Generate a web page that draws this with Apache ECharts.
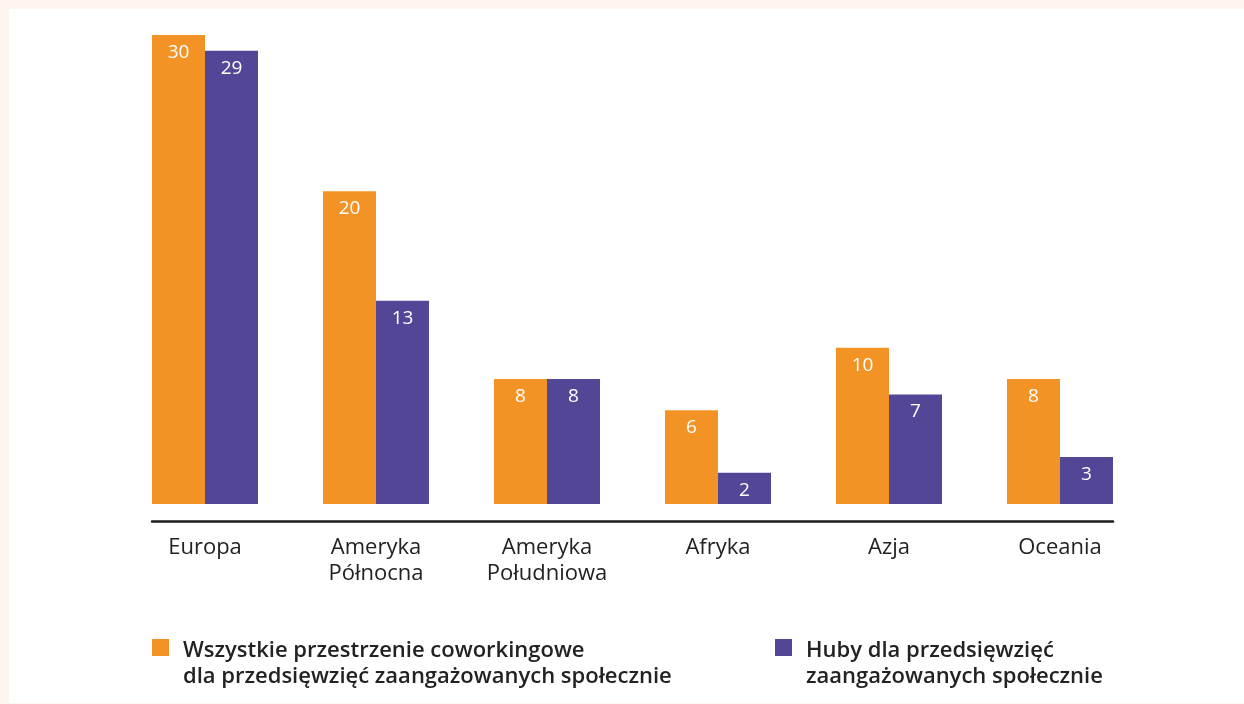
<!DOCTYPE html>
<html>
<head>
<meta charset="utf-8">
<script src="https://cdn.jsdelivr.net/npm/echarts@6/dist/echarts.min.js"></script>
<style>
html,body{margin:0;padding:0;background:#fdf5ee;}
#wrap{position:absolute;left:0;top:0;width:1244px;height:704px;background:#fdf5ee;}
#panel{position:absolute;left:9px;top:9px;width:1235px;height:694px;background:#ffffff;}
#chart{position:absolute;left:0;top:0;width:1244px;height:704px;}
</style>
</head>
<body>
<div id="wrap"><div id="panel"></div><div id="chart"></div></div>
<script>
const categories = ['Europa', 'Ameryka\nPółnocna', 'Ameryka\nPołudniowa', 'Afryka', 'Azja', 'Oceania'];
const allSpaces = [30, 20, 8, 6, 10, 8];
const hubs = [29, 13, 8, 2, 7, 3];
const seriesNames = [
  'Wszystkie przestrzenie coworkingowe\ndla przedsięwzięć zaangażowanych społecznie',
  'Huby dla przedsięwzięć\nzaangażowanych społecznie'
];
const FONT = '"Open Sans", sans-serif';
const ORANGE = '#f39325';
const PURPLE = '#544696';
const iconPath = 'path://M0,0L0,0M0,1h17v17h-17zM26,52L26,52';

const chart = echarts.init(document.getElementById('chart'), null, {renderer: 'canvas'});
const labelCfg = {
  show: true, position: 'insideTop', distance: 8, color: '#ffffff',
  fontFamily: FONT, fontSize: 19, fontWeight: 400
};
const legendText = {color: '#222222', fontFamily: FONT, fontSize: 22, fontWeight: 600, lineHeight: 26};
chart.setOption({
  backgroundColor: 'transparent',
  animation: false,
  grid: [
    {left: 119.5, right: 98.5, top: 35, bottom: 200},
    {left: 152, right: 131, top: 521, height: 0}
  ],
  xAxis: [
    {
      type: 'category', data: categories, gridIndex: 0,
      axisLine: {show: false}, axisTick: {show: false},
      axisLabel: {margin: 31, color: '#222222', fontFamily: FONT, fontSize: 22, lineHeight: 26}
    },
    {
      type: 'value', gridIndex: 1, min: 0, max: 1,
      axisLine: {show: true, lineStyle: {color: '#1d1d1b', width: 2.5}},
      axisTick: {show: false}, axisLabel: {show: false}, splitLine: {show: false}
    }
  ],
  yAxis: [
    {type: 'value', gridIndex: 0, min: 0, max: 30, show: false},
    {type: 'value', gridIndex: 1, show: false}
  ],
  legend: [
    {
      data: [seriesNames[0]], left: 152, top: 638, padding: 0, orient: 'horizontal',
      icon: iconPath, itemWidth: 26, itemHeight: 52, textStyle: legendText
    },
    {
      data: [seriesNames[1]], left: 775, top: 638, padding: 0, orient: 'horizontal',
      icon: iconPath, itemWidth: 26, itemHeight: 52, textStyle: legendText
    }
  ],
  series: [
    {
      name: seriesNames[0], type: 'bar', data: allSpaces, xAxisIndex: 0, yAxisIndex: 0,
      barWidth: 53, barGap: '0%', itemStyle: {color: ORANGE}, label: labelCfg
    },
    {
      name: seriesNames[1], type: 'bar', data: hubs, xAxisIndex: 0, yAxisIndex: 0,
      barWidth: 53, barGap: '0%', itemStyle: {color: PURPLE}, label: labelCfg
    }
  ]
});
</script>
</body>
</html>
